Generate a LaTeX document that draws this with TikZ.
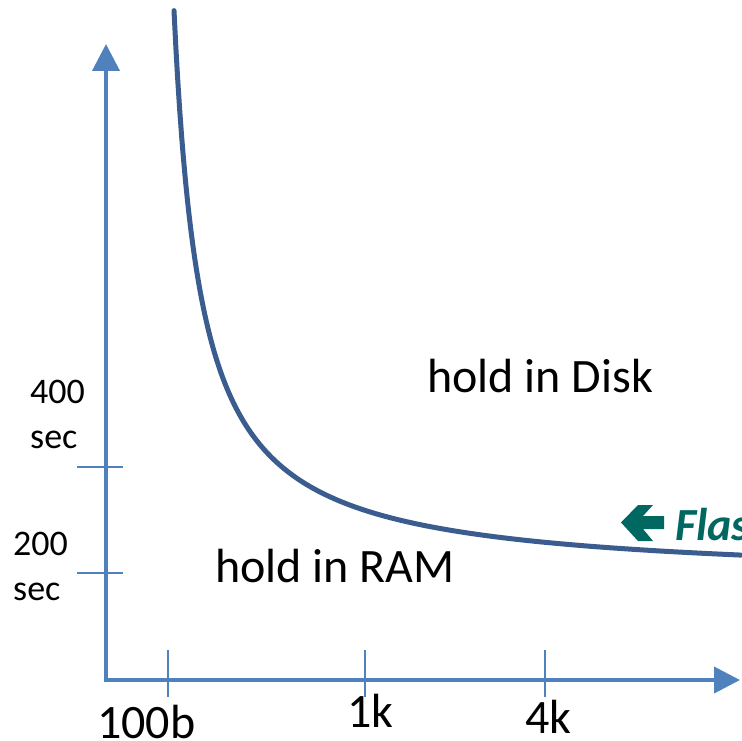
\documentclass[tikz,border=0pt]{standalone}
\usepackage{fontspec}
\setmainfont{Carlito}
\usetikzlibrary{arrows.meta}
\definecolor{axisblue}{RGB}{79,129,189}
\definecolor{curveblue}{RGB}{58,92,142}
\definecolor{flashteal}{RGB}{0,104,96}
\begin{document}
\begin{tikzpicture}[x=1pt,y=-1pt,
  axisline/.style={draw=axisblue, line width=4pt,
    {Triangle[length=27pt,width=27pt]}-{Triangle[length=26pt,width=26pt]}},
  tickline/.style={draw=axisblue, line width=2pt},
  costcurve/.style={draw=curveblue, line width=5pt, line cap=round},
  smalllabel/.style={anchor=base west, inner sep=0pt, font=\fontsize{36}{44}\selectfont},
  biglabel/.style={anchor=base west, inner sep=0pt, font=\fontsize{48}{58}\selectfont},
  flashlabel/.style={anchor=base west, inner sep=0pt, text=flashteal,
    font=\fontsize{46}{54}\selectfont\bfseries\itshape}]
  \useasboundingbox (0,0) rectangle (741,741);

  % axes
  \coordinate (origin) at (106,680);
  \coordinate (ytip) at (106,44);
  \coordinate (xtip) at (740,680);
  \draw[axisline] (ytip) -- (origin) -- (xtip);

  % ticks on the time axis
  \draw[tickline] (77,467) -- (123,467);
  \draw[tickline] (77,573) -- (123,573);
  % ticks on the size axis
  \draw[tickline] (168,650) -- (168,697);
  \draw[tickline] (365,650) -- (365,697);
  \draw[tickline] (545,650) -- (545,697);

  % time labels
  \node[smalllabel] (t400) at (30,403) {400};
  \node[smalllabel] (t400u) at (30,448) {sec};
  \node[smalllabel] (t200) at (13,555) {200};
  \node[smalllabel] (t200u) at (13,600) {sec};

  % size labels
  \node[biglabel] (s100) at (97,738) {100b};
  \node[biglabel] (s1k) at (347,727) {1k};
  \node[biglabel] (s4k) at (525,733) {4k};

  % break-even curve: retention time falls off as 1/size
  \draw[costcurve] plot[domain=174:741, samples=300, variable=\s]
    ({\s},{581-15400/(\s-147)});

  % region labels
  \node[biglabel] (disk) at (427,392) {hold in Disk};
  \node[biglabel] (ram) at (215,582) {hold in RAM};

  % flash marker
  \fill[flashteal] (621,522.5) -- (638,505) -- (653,505) -- (643,516)
    -- (664,516) -- (664,529) -- (643,529) -- (653,541)
    -- (638,541) -- cycle;
  \node[flashlabel] (flash) at (675,540) {Flash};
\end{tikzpicture}
\end{document}
